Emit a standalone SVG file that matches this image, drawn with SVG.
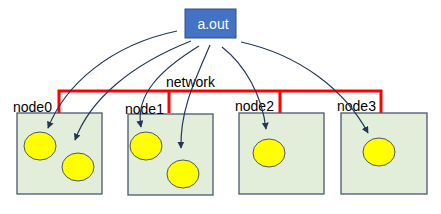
<svg xmlns="http://www.w3.org/2000/svg" width="441" height="214" viewBox="0 0 441 214">
<style>
.box{fill:#E2EEDA;stroke:#4A5670;stroke-width:1.3}
.cpu{fill:#FFFF00;stroke:#4A5670;stroke-width:1}
.lbl{font-family:"Liberation Sans",Arial,sans-serif;font-size:14px;fill:#000}
.net{fill:none;stroke:#FF0000;stroke-width:3}
.arr{fill:none;stroke:#243558;stroke-width:1.2;marker-end:url(#ah)}
</style>
<defs>
<marker id="ah" viewBox="0 0 10 10" refX="9" refY="5" markerWidth="7" markerHeight="7" markerUnits="userSpaceOnUse" orient="auto">
<path d="M0,0 L10,5 L0,10 z" fill="#243558"/>
</marker>
</defs>
<rect width="441" height="214" fill="#fff"/>
<g id="network">
<path class="net" d="M59,113 V91 H381 V113 M169,91 V113 M280,91 V113"/>
<text class="lbl" x="166" y="87">network</text>
</g>
<g id="aout">
<rect x="185" y="9" width="51" height="29" fill="#4472C4" stroke="#2F4E8A" stroke-width="1"/>
<text x="213" y="29" font-family="Liberation Sans,Arial,sans-serif" font-size="14" fill="#fff" text-anchor="middle">a.out</text>
</g>
<g id="node0">
<rect class="box" x="17" y="113" width="85" height="81"/>
<ellipse class="cpu" cx="40" cy="146" rx="16" ry="14"/>
<ellipse class="cpu" cx="78" cy="167" rx="16" ry="14"/>
<text class="lbl" x="13" y="112">node0</text>
</g>
<g id="node1">
<rect class="box" x="128" y="114" width="85" height="81"/>
<ellipse class="cpu" cx="146" cy="146" rx="16" ry="14"/>
<ellipse class="cpu" cx="183" cy="174" rx="16" ry="14"/>
<text class="lbl" x="125" y="114">node1</text>
</g>
<g id="node2">
<rect class="box" x="239" y="113" width="85" height="81"/>
<ellipse class="cpu" cx="269" cy="153" rx="16" ry="14"/>
<text class="lbl" x="235" y="111">node2</text>
</g>
<g id="node3">
<rect class="box" x="341" y="113" width="86" height="81"/>
<ellipse class="cpu" cx="379" cy="152" rx="16" ry="14"/>
<text class="lbl" x="337" y="111">node3</text>
</g>
<g id="connectors">
<path class="arr" d="M177,31 C110,45 65,85 48,128"/>
<path class="arr" d="M191,41 C130,65 90,100 75,140"/>
<path class="arr" d="M199,46 C160,70 135,95 141,127"/>
<path class="arr" d="M210,45 C195,80 180,110 181,148"/>
<path class="arr" d="M222,47 C245,65 262,95 266,129"/>
<path class="arr" d="M241,42 C300,55 345,90 368,133"/>
</g>
</svg>
